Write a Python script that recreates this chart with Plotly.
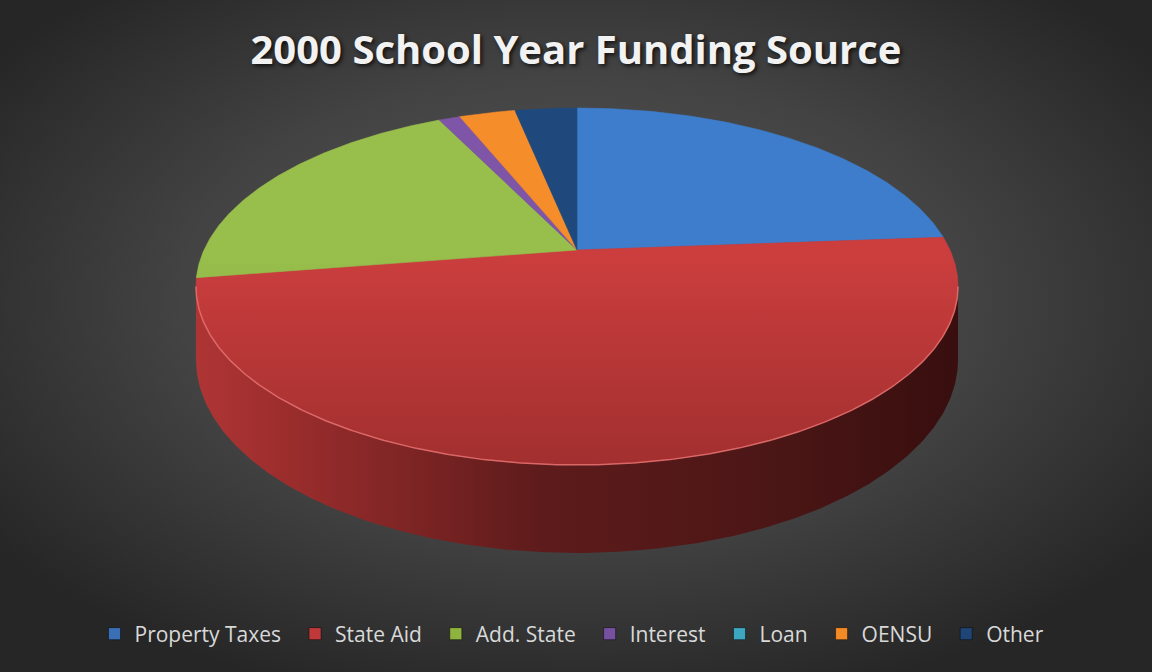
import base64
import numpy as np
import plotly.graph_objects as go

# ---------------- data ----------------
categories = ["Property Taxes", "State Aid", "Add. State", "Interest", "Loan", "OENSU", "Other"]
values = [23.8, 48.7, 20.3, 1.1, 0.0, 2.9, 3.2]
top_colors = ["#3D7DCC", "#CC3E3E", "#98BF4C", "#7F55A8", "#4BACC6", "#F58D2A", "#1F497D"]
top_dark = ["#3064AD", "#A22F2F", "#7FA23B", "#6A4690", "#3A91A8", "#D9771C", "#1A3E6A"]
legend_colors = ["#3A6FB5", "#C0393A", "#8EB43F", "#7551A0", "#3DA6C0", "#F28A26", "#1F4577"]
title_text = "2000 School Year Funding Source"

# ---------------- geometry (pixel space, y down) ----------------
W, H = 1152, 672
cx, cy = 577.0, 250.0     # pie apex
A, B = 373.0, 171.0       # radii of top face
k = 0.2045                # perspective factor
D = 70.0                  # depth of the pie


def proj(theta):
    u = np.sin(theta)
    v = -np.cos(theta)
    s = 1.0 / (1.0 - k * v)
    return cx + A * u * s, cy + B * v * s, s


total = float(sum(values))
fracs = [v / total for v in values]
starts = np.concatenate([[0.0], np.cumsum(fracs)[:-1]]) * 2 * np.pi
ends = np.cumsum(fracs) * 2 * np.pi

# visible outer wall: between the right-most and left-most points
tt = np.linspace(0, 2 * np.pi, 7201)
xx, _, _ = proj(tt)
th_right = tt[np.argmax(xx)]
th_left = tt[np.argmin(xx)]

fig = go.Figure()

# ---- side walls ----
for i, cat in enumerate(categories):
    a0 = max(starts[i], th_right)
    a1 = min(ends[i], th_left)
    if a1 <= a0:
        continue
    th = np.linspace(a0, a1, 300)
    x, y, s = proj(th)
    yb = y + D * s
    px = np.concatenate([x, x[::-1], x[:1]])
    py = np.concatenate([y, yb[::-1], y[:1]])
    fig.add_trace(go.Scatter(
        x=px, y=py, mode="lines", fill="toself",
        line=dict(width=0, color=top_dark[i]),
        fillcolor=top_dark[i],
        fillgradient=dict(type="horizontal",
                          start=cx - A * 1.03, stop=cx + A * 1.03,
                          colorscale=[[0, "#B03535"], [0.12, "#9C2D2D"],
                                      [0.45, "#5E1B1B"], [0.75, "#4C1616"],
                                      [1, "#380E0E"]]),
        hoverinfo="skip", showlegend=False))

# ---- top faces ----
for i, cat in enumerate(categories):
    if ends[i] - starts[i] <= 0:
        continue
    n = max(int((ends[i] - starts[i]) / (2 * np.pi) * 720), 4)
    th = np.linspace(starts[i], ends[i], n)
    x, y, _ = proj(th)
    px = np.concatenate([[cx], x, [cx]])
    py = np.concatenate([[cy], y, [cy]])
    fig.add_trace(go.Scatter(
        x=px, y=py, mode="lines", fill="toself",
        line=dict(width=0.6, color=top_colors[i]),
        fillcolor=top_colors[i],
        fillgradient=dict(type="vertical", start=cy - B, stop=cy + B * 1.26,
                          colorscale=[[0, top_colors[i]], [0.45, top_colors[i]],
                                      [1, top_dark[i]]]),
        name=cat, hoverinfo="name", showlegend=False))

# ---- front rim highlight ----
th = np.linspace(th_right, th_left, 400)
x, y, _ = proj(th)
fig.add_trace(go.Scatter(x=x, y=y, mode="lines",
                         line=dict(width=1.5, color="rgba(235,120,120,0.75)"),
                         hoverinfo="skip", showlegend=False))

# ---- legend entries ----
for i, cat in enumerate(categories):
    fig.add_trace(go.Scatter(
        x=[None], y=[None], mode="markers", name=cat + "\u00a0\u2009",
        marker=dict(symbol="square", size=12, color=legend_colors[i],
                    line=dict(width=1, color="rgba(0,0,0,0.45)")),
        showlegend=True))

# ---------------- background gradient ----------------
svg = f"""<svg xmlns='http://www.w3.org/2000/svg' width='{W}' height='{H}' viewBox='0 0 {W} {H}'>
<defs><radialGradient id='g' cx='50%' cy='45%' r='62%' gradientUnits='objectBoundingBox'>
<stop offset='0' stop-color='#5A5A5A'/><stop offset='0.55' stop-color='#434343'/>
<stop offset='1' stop-color='#262626'/></radialGradient></defs>
<rect width='{W}' height='{H}' fill='url(#g)'/></svg>"""
src = "data:image/svg+xml;base64," + base64.b64encode(svg.encode()).decode()

fig.update_layout(
    width=W, height=H,
    margin=dict(l=0, r=0, t=0, b=0),
    paper_bgcolor="#262626", plot_bgcolor="rgba(0,0,0,0)",
    images=[dict(source=src, xref="paper", yref="paper", x=0, y=1,
                 sizex=1, sizey=1, sizing="stretch", layer="below",
                 xanchor="left", yanchor="top")],
    xaxis=dict(range=[0, W], visible=False, fixedrange=True, domain=[0, 1]),
    yaxis=dict(range=[H, 0], visible=False, fixedrange=True, domain=[0, 1]),
    title=dict(text=f"<b>{title_text}</b>", x=0.5, xanchor="center",
               y=1 - 50 / H, yanchor="middle",
               font=dict(family="Open Sans", size=40, color="#F2F2F2",
                         shadow="2px 2px 4px rgba(0,0,0,0.75)")),
    legend=dict(orientation="h", x=0.5, xanchor="center",
                y=1 - 634 / H, yanchor="middle",
                bgcolor="rgba(0,0,0,0)",
                font=dict(family="Open Sans", size=21, color="#D9D9D9"),
                itemclick=False, itemdoubleclick=False),
    showlegend=True,
)

fig.write_html("out.html", config={"displayModeBar": False},
               post_script="document.body.style.margin='0';")
